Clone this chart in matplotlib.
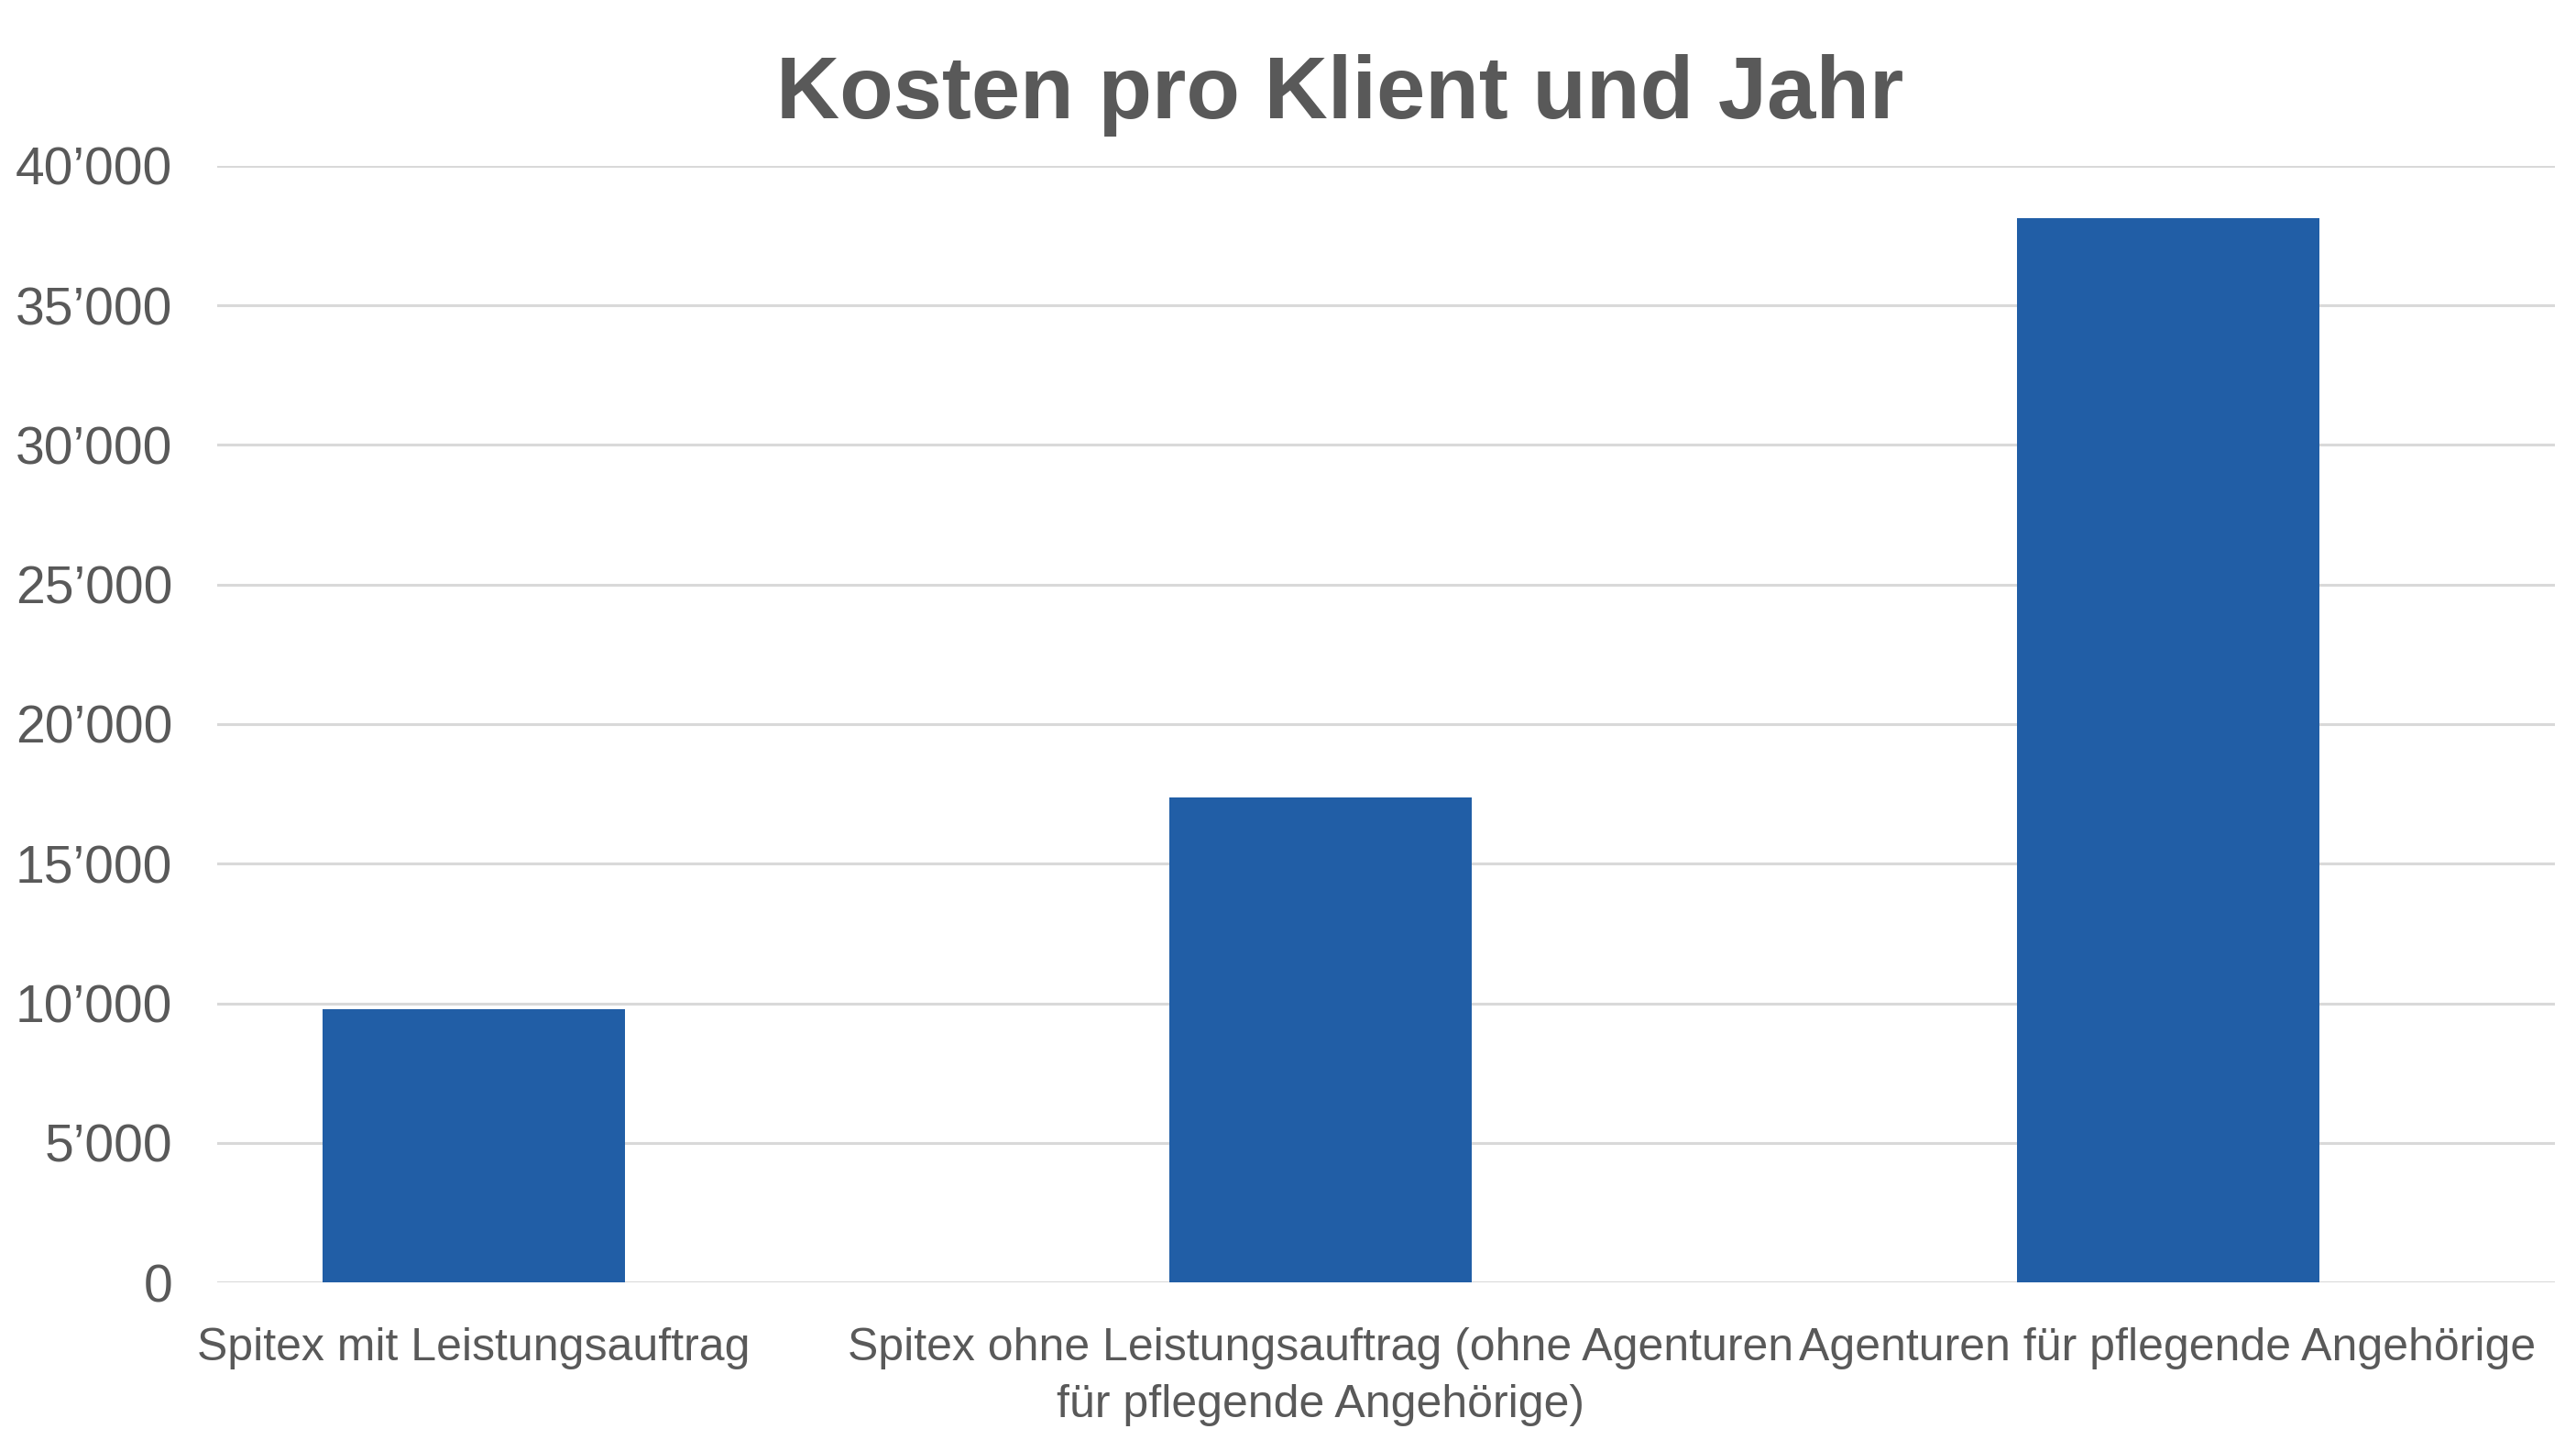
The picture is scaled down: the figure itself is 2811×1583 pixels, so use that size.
import matplotlib.pyplot as plt
from matplotlib.ticker import FuncFormatter

# Kosten pro Klient und Jahr (CHF)
kategorien = ['Spitex mit Leistungsauftrag',
              'Spitex ohne Leistungsauftrag (ohne Agenturen\nfür pflegende Angehörige)',
              'Agenturen für pflegende Angehörige']
kosten = [9780, 17380, 38120]
y_ticks = [0, 5000, 10000, 15000, 20000, 25000, 30000, 35000, 40000]

grau = '#595959'
blau = '#215EA6'

plt.rcParams['font.family'] = ['Liberation Sans', 'DejaVu Sans']

fig = plt.figure(figsize=(28.11, 15.83), dpi=100)
ax = fig.add_axes([0.0843, 0.1162, 0.9075, 0.7695])

x = range(len(kategorien))
ax.bar(x, kosten, width=0.357, color=blau, zorder=3)

ax.set_xlim(-0.303, 2.457)
ax.set_ylim(0, 40000)
ax.set_yticks(y_ticks)
ax.yaxis.set_major_formatter(FuncFormatter(lambda v, p: f'{int(v):,}'.replace(',', '\u2019')))
ax.set_xticks(list(x))
ax.set_xticklabels(kategorien, linespacing=1.45)

ax.grid(axis='y', color='#D9D9D9', linewidth=2.2, zorder=0)
for s in ax.spines.values():
    s.set_visible(False)
ax.tick_params(axis='y', length=0, pad=35, labelsize=41, labelcolor=grau)
ax.tick_params(axis='x', length=0, pad=35, labelsize=36, labelcolor=grau)

fig.text(0.52, 0.9185, 'Kosten pro Klient und Jahr', ha='center', va='baseline',
         fontsize=69, fontweight='bold', color=grau)

fig.savefig('out.png', dpi=100, facecolor='white')
